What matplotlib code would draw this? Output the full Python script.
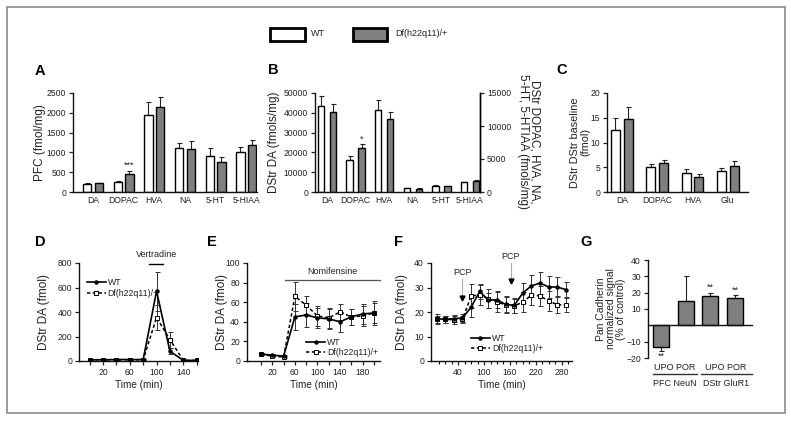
import matplotlib
matplotlib.use('Agg')
import matplotlib.pyplot as plt
import numpy as np
from matplotlib.patches import Rectangle
from matplotlib.lines import Line2D

plt.rcParams['font.family'] = ['Liberation Sans', 'DejaVu Sans']

# ---------------- data ----------------
a_cats = ['DA', 'DOPAC', 'HVA', 'NA', '5-HT', '5-HIAA']
a_wt = [205, 265, 1940, 1100, 910, 1020]
a_wt_err = [30, 20, 340, 145, 210, 110]
a_df = [215, 465, 2145, 1095, 765, 1185]
a_df_err = [20, 60, 255, 190, 130, 130]

b_cats = ['DA', 'DOPAC', 'HVA', 'NA', '5-HT', '5-HIAA']
b_left_wt = [43500, 16000, 41400]
b_left_wt_err = [5100, 2000, 4900]
b_left_df = [40200, 22000, 36800]
b_left_df_err = [4400, 2000, 3500]
b_right_wt = [560, 970, 1470]
b_right_wt_err = [60, 80, 100]
b_right_df = [510, 860, 1680]
b_right_df_err = [60, 80, 90]

c_cats = ['DA', 'DOPAC', 'HVA', 'Glu']
c_wt = [12.5, 5.1, 3.9, 4.3]
c_wt_err = [2.5, 0.5, 0.7, 0.6]
c_df = [14.7, 5.8, 3.1, 5.3]
c_df_err = [2.5, 0.7, 0.5, 1.0]

d_time = [0, 20, 40, 60, 80, 100, 120, 140, 160]
d_wt = [10, 10, 12, 12, 12, 570, 80, 5, 5]
d_wt_err = [5, 5, 5, 5, 5, 160, 25, 3, 3]
d_df = [10, 10, 10, 10, 10, 355, 175, 5, 5]
d_df_err = [5, 5, 5, 5, 5, 100, 65, 3, 3]

e_time = [0, 20, 40, 60, 80, 100, 120, 140, 160, 180, 200]
e_wt = [7, 6, 5, 45, 47, 44, 43, 40, 45, 48, 49]
e_wt_err = [1, 1, 1, 13, 12, 10, 10, 10, 8, 10, 10]
e_df = [7, 5, 4, 66, 57, 46, 44, 50, 45, 46, 49]
e_df_err = [1, 1, 1, 15, 9, 10, 10, 8, 8, 10, 12]

f_time = [-10, 10, 30, 50, 70, 90, 110, 130, 150, 170, 190, 210, 230, 250, 270, 290]
f_wt = [17.3, 17.0, 17.3, 17.5, 22, 28.4, 24.8, 25.0, 23.1, 22.7, 27.8, 30.7, 31.8, 30.2, 30.2, 29.1]
f_wt_err = [2, 1.5, 1.5, 1.5, 4, 3, 3, 3.5, 3.5, 3, 4, 4.5, 4.5, 4.5, 4, 3]
f_df = [17, 17, 16.8, 17, 26.5, 27, 25.5, 24, 23, 22.5, 24, 27, 26.5, 24.5, 23, 22.8]
f_df_err = [1.5, 1.5, 1.5, 1.5, 5, 4, 4, 4, 3, 3, 4, 4, 4, 4, 3.5, 3]

g_groups = ['UPO', 'POR', 'UPO', 'POR']
g_vals = [-13, 15, 18, 17]
g_err = [3, 15, 2, 1.5]

# ---------------- figure ----------------
W, H = 791, 425
fig = plt.figure(figsize=(W / 100, H / 100), dpi=100)

TXT = '#222222'
GRAY = '#7f7f7f'
TICK_FS = 6.2
LAB_FS = 8.5


def ax_px(x0, y0, x1, y1):
    return fig.add_axes([x0 / W, 1 - y1 / H, (x1 - x0) / W, (y1 - y0) / H])


def style(ax, right=False):
    for s in ['top', 'right']:
        ax.spines[s].set_visible(False)
    if right:
        ax.spines['right'].set_visible(True)
    for s in ax.spines.values():
        s.set_linewidth(1.0)
        s.set_color('#111111')
    ax.tick_params(labelsize=TICK_FS, colors=TXT, length=3, width=0.9, pad=2)
    ax.patch.set_alpha(0)


def ylab_px(ax, text, xright, x0, x1, fs=LAB_FS):
    # xright: pixel position of the label's right edge
    ax.set_ylabel(text, fontsize=fs, color=TXT, linespacing=1.0)
    ax.yaxis.set_label_coords((xright - x0) / (x1 - x0), 0.5)


def bars(ax, pos, wt, wterr, df, dferr, off, width):
    pos = np.asarray(pos, dtype=float)
    ax.bar(pos - off, wt, width, color='white', edgecolor='black', linewidth=1.0, zorder=2)
    ax.bar(pos + off, df, width, color=GRAY, edgecolor='black', linewidth=1.0, zorder=2)
    ax.errorbar(pos - off, wt, yerr=[np.zeros(len(wt)), wterr], fmt='none', ecolor='#222222',
                elinewidth=0.8, capsize=1.8, capthick=0.8, zorder=1)
    ax.errorbar(pos + off, df, yerr=[np.zeros(len(df)), dferr], fmt='none', ecolor='#222222',
                elinewidth=0.8, capsize=1.8, capthick=0.8, zorder=1)


# border
fig.patches.append(Rectangle((7 / W, 1 - 413 / H), 778 / W, 406 / H, transform=fig.transFigure,
                             fill=False, edgecolor='#8a8a8a', linewidth=1.2))

# top legend
fig.patches.append(Rectangle((270 / W, 1 - 41 / H), 35 / W, 13 / H, transform=fig.transFigure,
                             facecolor='white', edgecolor='black', linewidth=2.0))
fig.text(311 / W, 1 - 34 / H, 'WT', fontsize=6.5, color=TXT, va='center', ha='left')
fig.patches.append(Rectangle((353 / W, 1 - 41 / H), 34 / W, 13 / H, transform=fig.transFigure,
                             facecolor=GRAY, edgecolor='black', linewidth=2.0))
fig.text(395 / W, 1 - 34 / H, 'Df(h22q11)/+', fontsize=6.5, color=TXT, va='center', ha='left')

# panel letters
for L, (x, y) in {'A': (35, 75), 'B': (268, 74), 'C': (556, 74), 'D': (35, 246),
                  'E': (207, 246), 'F': (394, 246), 'G': (580, 246)}.items():
    fig.text(x / W, 1 - y / H, L, fontsize=10.5, fontweight='bold', va='baseline', ha='left')

# ---------------- A ----------------
x0, y0, x1, y1 = 73, 93, 257, 192
axA = ax_px(x0, y0, x1, y1)
style(axA)
posA = np.arange(len(a_cats))
bars(axA, posA, a_wt, a_wt_err, a_df, a_df_err, 0.19, 0.27)
axA.set_xlim(-0.65, 5.35)
axA.set_ylim(0, 2500)
axA.set_yticks(range(0, 2501, 500))
axA.set_xticks(posA)
axA.set_xticklabels(a_cats)
axA.tick_params(axis='x', length=0, pad=3)
axA.text(posA[1] + 0.19, a_df[1] + a_df_err[1] + 40, '***', ha='center', va='bottom', fontsize=6.5, color=TXT)
ylab_px(axA, 'PFC (fmol/mg)', 46, x0, x1)

# ---------------- B ----------------
x0, y0, x1, y1 = 315, 93, 480, 192
axB = ax_px(x0, y0, x1, y1)
style(axB, right=True)
posB = np.arange(len(b_cats))
bars(axB, posB[:3], b_left_wt, b_left_wt_err, b_left_df, b_left_df_err, 0.21, 0.23)
axB.set_xlim(-0.42, 5.35)
axB.set_ylim(0, 50000)
axB.set_yticks(range(0, 50001, 10000))
axB.set_xticks(posB)
axB.set_xticklabels(b_cats)
axB.tick_params(axis='x', length=0, pad=3)
axB.text(posB[1] + 0.21, b_left_df[1] + b_left_df_err[1] + 600, '*', ha='center', va='bottom', fontsize=6.5, color=TXT)
ylab_px(axB, 'DStr DA (fmols/mg)', 280, x0, x1)
axB2 = axB.twinx()
axB2.set_position(axB.get_position())
for s in ['top', 'left', 'bottom']:
    axB2.spines[s].set_visible(False)
axB2.spines['right'].set_linewidth(1.0)
axB2.tick_params(labelsize=TICK_FS, colors=TXT, length=3, width=0.9, pad=2)
bars(axB2, posB[3:], b_right_wt, b_right_wt_err, b_right_df, b_right_df_err, 0.21, 0.23)
axB2.set_xlim(-0.42, 5.35)
axB2.set_ylim(0, 15000)
axB2.set_yticks([0, 5000, 10000, 15000])
fig.text(529 / W, 1 - 142 / H, 'DStr DOPAC, HVA, NA,\n5-HT, 5-HTIAA (fmols/mg)', fontsize=LAB_FS,
         color=TXT, rotation=270, ha='center', va='center', linespacing=1.0, rotation_mode='anchor')

# ---------------- C ----------------
x0, y0, x1, y1 = 607, 93, 748, 192
axC = ax_px(x0, y0, x1, y1)
style(axC)
posC = np.arange(len(c_cats))
bars(axC, posC, c_wt, c_wt_err, c_df, c_df_err, 0.18, 0.25)
axC.set_xlim(-0.42, 3.57)
axC.set_ylim(0, 20)
axC.set_yticks(range(0, 21, 5))
axC.set_xticks(posC)
axC.set_xticklabels(c_cats)
axC.tick_params(axis='x', length=0, pad=3)
ylab_px(axC, 'DStr DStr baseline\n(fmol)', 590, x0, x1, fs=7.8)


# ---------------- line panels ----------------
def lines(ax, t, wt, wterr, df, dferr):
    ax.errorbar(t, df, yerr=dferr, fmt='none', ecolor='#333333', elinewidth=0.7, capsize=1.8,
                capthick=0.7, zorder=2)
    ax.errorbar(t, wt, yerr=wterr, fmt='none', ecolor='#333333', elinewidth=0.7, capsize=1.8,
                capthick=0.7, zorder=2)
    ax.plot(t, df, linestyle=(0, (2.2, 1.6)), color='black', linewidth=1.1, marker='s', markersize=3.2,
            markerfacecolor='white', markeredgecolor='black', markeredgewidth=0.7, zorder=3,
            label='Df(h22q11)/+')
    ax.plot(t, wt, '-', color='black', linewidth=1.2, marker='o', markersize=2.2, zorder=4, label='WT')


def leg(ax, loc, anchor):
    h = [Line2D([], [], color='black', lw=1.2, marker='o', ms=2.2),
         Line2D([], [], color='black', lw=1.1, linestyle=(0, (2.2, 1.6)), marker='s', ms=3.2,
                markerfacecolor='white', markeredgewidth=0.7)]
    lg = ax.legend(h, ['WT', 'Df(h22q11)/+'], loc=loc, bbox_to_anchor=anchor, frameon=False,
                   fontsize=6.3, handlelength=2.2, handletextpad=0.2, labelspacing=0.15,
                   borderpad=0.1, borderaxespad=0.1)
    for t in lg.get_texts():
        t.set_color(TXT)


# D
x0, y0, x1, y1 = 79, 263, 198, 361
axD = ax_px(x0, y0, x1, y1)
style(axD)
lines(axD, d_time, d_wt, d_wt_err, d_df, d_df_err)
axD.set_xlim(-16, 162)
axD.set_ylim(0, 800)
axD.set_yticks(range(0, 801, 200))
axD.set_xticks(range(0, 161, 20))
axD.set_xticklabels(['' if v not in (20, 60, 100, 140) else str(v) for v in range(0, 161, 20)])
axD.set_xlabel('Time (min)', fontsize=7.2, color=TXT, labelpad=2)
ylab_px(axD, 'DStr DA (fmol)', 50, x0, x1)
axD.plot([88, 110], [795, 795], color='black', lw=1.0, clip_on=False)
axD.text(100, 835, 'Vertradine', ha='center', va='bottom', fontsize=6.5, color=TXT, clip_on=False)
leg(axD, 'upper left', (0.05, 0.86))

# E
x0, y0, x1, y1 = 247, 263, 380, 361
axE = ax_px(x0, y0, x1, y1)
style(axE)
lines(axE, e_time, e_wt, e_wt_err, e_df, e_df_err)
axE.set_xlim(-25, 211)
axE.set_ylim(0, 100)
axE.set_yticks(range(0, 101, 20))
axE.set_xticks(range(0, 201, 20))
axE.set_xticklabels(['' if v not in (20, 60, 100, 140, 180) else str(v) for v in range(0, 201, 20)])
axE.set_xlabel('Time (min)', fontsize=7.2, color=TXT, labelpad=2)
ylab_px(axE, 'DStr DA (fmol)', 228, x0, x1)
axE.plot([43, 211], [83, 83], color='#555555', lw=0.9, clip_on=False)
axE.text(127, 87, 'Nomifensine', ha='center', va='bottom', fontsize=6.5, color=TXT, clip_on=False)
leg(axE, 'lower right', (1.0, 0.02))

# F
x0, y0, x1, y1 = 431, 263, 572, 361
axF = ax_px(x0, y0, x1, y1)
style(axF)
lines(axF, f_time, f_wt, f_wt_err, f_df, f_df_err)
axF.set_xlim(-23, 304)
axF.set_ylim(0, 40)
axF.set_yticks(range(0, 41, 10))
axF.set_xticks([40, 100, 160, 220, 280])
axF.set_xticks(np.arange(-5, 300, 15), minor=True)
axF.tick_params(axis='x', which='minor', length=2.5, width=0.8)
axF.set_xlabel('Time (min)', fontsize=7.2, color=TXT, labelpad=2)
ylab_px(axF, 'DStr DA (fmol)', 408, x0, x1)
for tx, ytop, ybot in [(50, 33.5, 24.5), (162, 40.2, 31.5)]:
    axF.plot([tx, tx], [ytop, ybot + 2.2], color='#aaaaaa', lw=0.8, clip_on=False)
    axF.plot([tx], [ybot + 1.2], marker='v', color='black', markersize=3.5, clip_on=False)
    axF.text(tx, ytop + 0.6, 'PCP', ha='center', va='bottom', fontsize=6.5, color=TXT, clip_on=False)
leg(axF, 'lower left', (0.27, 0.06))

# ---------------- G ----------------
x0, y0, x1, y1 = 648, 260, 752, 358
axG = ax_px(x0, y0, x1, y1)
style(axG)
axG.spines['bottom'].set_position(('data', 0))
posG = np.arange(len(g_vals))
axG.bar(posG, g_vals, 0.66, color=GRAY, edgecolor='black', linewidth=1.0, zorder=2)
lo = [e if v < 0 else 0 for v, e in zip(g_vals, g_err)]
hi = [e if v >= 0 else 0 for v, e in zip(g_vals, g_err)]
axG.errorbar(posG, g_vals, yerr=[lo, hi], fmt='none', ecolor='#222222', elinewidth=0.8, capsize=1.8,
             capthick=0.8, zorder=1)
axG.set_xlim(-0.53, 3.69)
axG.set_ylim(-20, 40)
axG.set_yticks([-20, -10, 10, 20, 30, 40])
axG.set_xticks([])
axG.text(0, -16.2, '**', ha='center', va='top', fontsize=6.5, color=TXT)
for i in (2, 3):
    axG.text(i, g_vals[i] + g_err[i] + 0.5, '**', ha='center', va='bottom', fontsize=6.5, color=TXT)
ylab_px(axG, 'Pan Cadherin\nnormalized signal\n(% of control)', 626, x0, x1, fs=7.5)
# group labels
for cx, name, lx0, lx1 in [(675, 'PFC NeuN', 653, 697), (726, 'DStr GluR1', 701, 752)]:
    fig.text(cx / W, 1 - 367 / H, 'UPO POR', ha='center', va='center', fontsize=6.5, color=TXT)
    fig.add_artist(Line2D([lx0 / W, lx1 / W], [1 - 374 / H, 1 - 374 / H], color='#333333', lw=1.0))
    fig.text(cx / W, 1 - 383 / H, name, ha='center', va='center', fontsize=6.5, color=TXT)

fig.savefig('out.png', dpi=100)
